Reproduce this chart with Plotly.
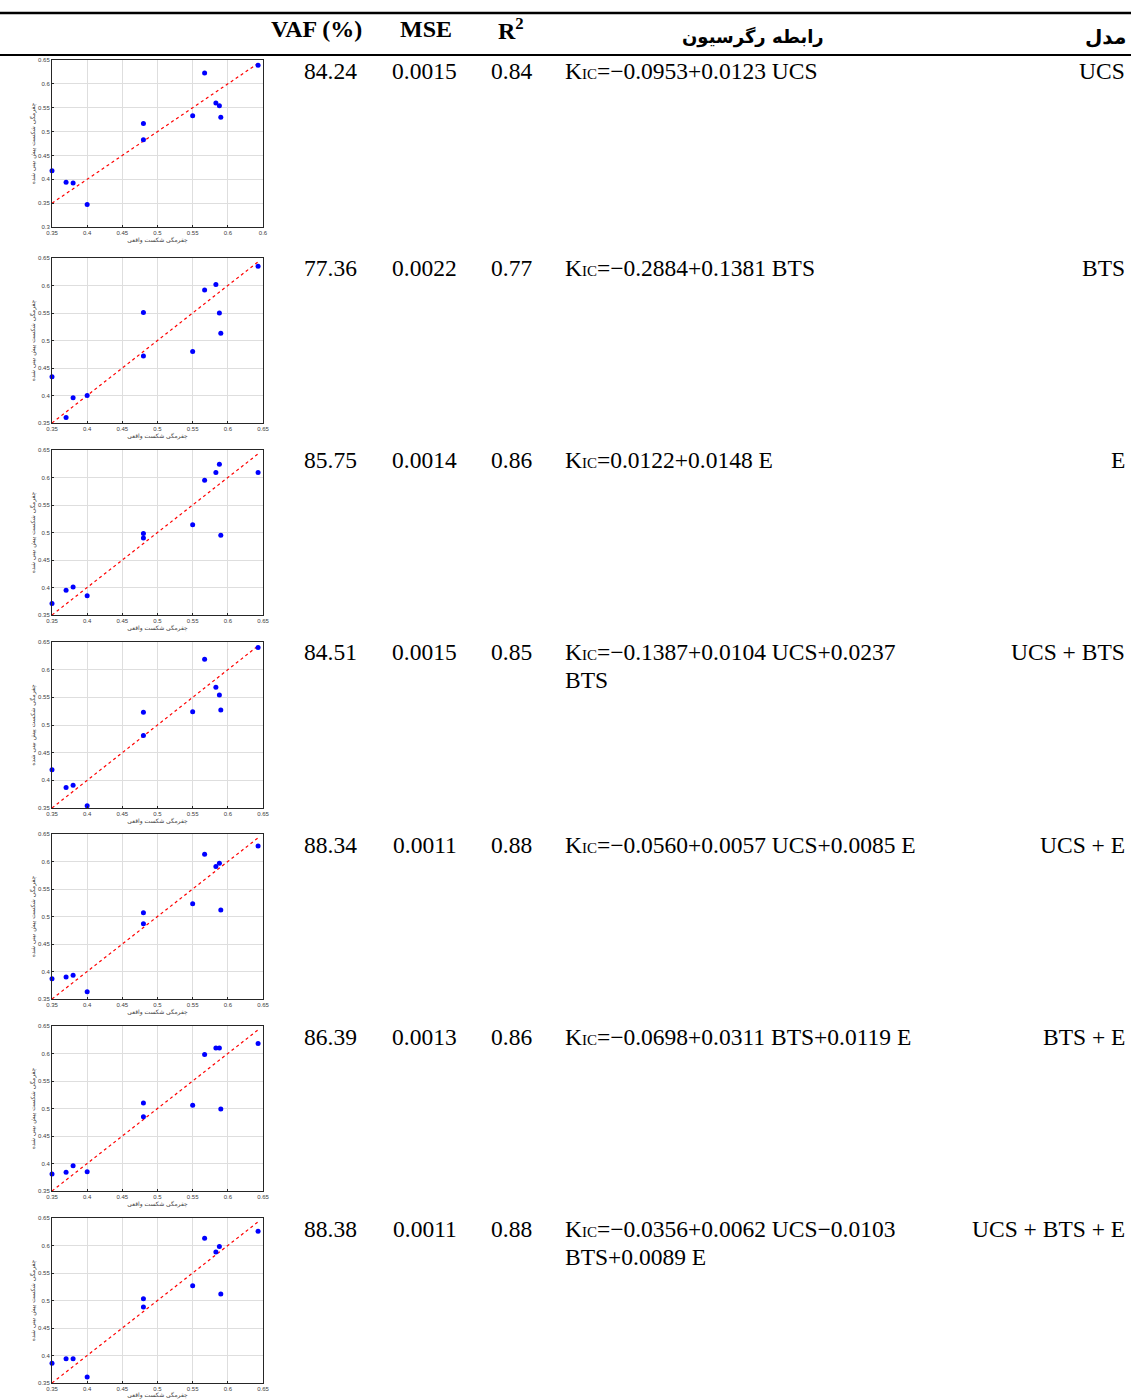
import plotly.graph_objects as go

W, H = 1131, 1399

# Measured fracture toughness (shared by all models)
actual = [0.35, 0.37, 0.38, 0.40, 0.48, 0.48, 0.55, 0.567, 0.583, 0.588, 0.59, 0.643]

# Predicted fracture toughness for each regression model
pred_ucs = [0.418, 0.394, 0.392, 0.347, 0.517, 0.483, 0.533, 0.623, 0.560, 0.554, 0.530, 0.639]
pred_bts = [0.434, 0.360, 0.396, 0.400, 0.551, 0.472, 0.480, 0.592, 0.602, 0.550, 0.513, 0.635]
pred_e = [0.371, 0.395, 0.401, 0.385, 0.498, 0.490, 0.514, 0.595, 0.609, 0.624, 0.495, 0.609]
pred_ucs_bts = [0.419, 0.387, 0.391, 0.354, 0.523, 0.481, 0.524, 0.619, 0.568, 0.554, 0.527, 0.640]
pred_ucs_e = [0.387, 0.390, 0.393, 0.363, 0.507, 0.487, 0.523, 0.613, 0.591, 0.597, 0.512, 0.628]
pred_bts_e = [0.381, 0.384, 0.396, 0.385, 0.510, 0.485, 0.506, 0.598, 0.610, 0.610, 0.499, 0.618]
pred_all = [0.386, 0.394, 0.394, 0.361, 0.503, 0.488, 0.527, 0.613, 0.588, 0.598, 0.512, 0.626]
predictions = [pred_ucs, pred_bts, pred_e, pred_ucs_bts, pred_ucs_e, pred_bts_e, pred_all]

# Table columns
KIC = "K<span style='font-size:15px'>IC</span>"
models = ["UCS", "BTS", "E", "UCS + BTS", "UCS + E", "BTS + E", "UCS + BTS + E"]
vaf = ["84.24", "77.36", "85.75", "84.51", "88.34", "86.39", "88.38"]
mse = ["0.0015", "0.0022", "0.0014", "0.0015", "0.0011", "0.0013", "0.0011"]
r2 = ["0.84", "0.77", "0.86", "0.85", "0.88", "0.86", "0.88"]
equations = [
    KIC + "=−0.0953+0.0123 UCS",
    KIC + "=−0.2884+0.1381 BTS",
    KIC + "=0.0122+0.0148 E",
    KIC + "=−0.1387+0.0104 UCS+0.0237\nBTS",
    KIC + "=−0.0560+0.0057 UCS+0.0085 E",
    KIC + "=−0.0698+0.0311 BTS+0.0119 E",
    KIC + "=−0.0356+0.0062 UCS−0.0103\nBTS+0.0089 E",
]

headers = ["VAF (%)", "MSE", "R<sup>2</sup>", "رابطه رگرسیون", "مدل"]

x_title = "چقرمگی شکست واقعی"
y_title = "چقرمگی شکست پیش بینی شده"

x_ticks = [0.35, 0.4, 0.45, 0.5, 0.55, 0.6, 0.65]
y_ticks = [0.3, 0.35, 0.4, 0.45, 0.5, 0.55, 0.6, 0.65]

# Layout positions in pixels
plot_left, plot_right = 52, 263
plot_boxes = [(60, 227), (258, 423), (450, 615), (642, 808), (834, 999), (1026, 1191), (1218, 1383)]
row_text_y = [71, 268, 460, 652, 845, 1037, 1229]
line_gap = 28


def px_x(p):
    return p / W


def px_y(p):
    return 1 - p / H


SERIF = "Liberation Serif, Times New Roman, serif"
ARABIC = "DejaVu Sans, sans-serif"

fig = go.Figure()
layout = dict(
    template="none",
    width=W, height=H, autosize=False, margin=dict(l=0, r=0, t=0, b=0, pad=0),
    paper_bgcolor="white", plot_bgcolor="white", showlegend=False,
)

for i, pred in enumerate(predictions):
    sfx = "" if i == 0 else str(i + 1)
    xref, yref = "x" + sfx, "y" + sfx
    top, bottom = plot_boxes[i]
    y_lo = 0.3 if i == 0 else 0.35
    yt = [t for t in y_ticks if t >= y_lo - 1e-9]
    xtext = [f"{t:g}" for t in x_ticks]
    if i == 0:
        xtext[-1] = "0.6"
    axis_common = dict(
        automargin=False,
        showline=True, mirror=True, linecolor="#262626", linewidth=1,
        showgrid=True, gridcolor="#dedede", gridwidth=1,
        ticks="inside", ticklen=2, tickcolor="#262626",
        tickfont=dict(family="Liberation Sans, Arial", size=6, color="#404040"),
        zeroline=False,
    )
    layout["xaxis" + sfx] = dict(
        axis_common, domain=[px_x(plot_left), px_x(plot_right)], anchor=yref,
        range=[0.35, 0.65], tickvals=x_ticks, ticktext=xtext,
        title=dict(text=x_title, font=dict(family=ARABIC, size=6, color="#404040"), standoff=1),
    )
    layout["yaxis" + sfx] = dict(
        axis_common, domain=[px_y(bottom), px_y(top)], anchor=xref,
        range=[y_lo, 0.65], tickvals=yt, ticktext=[f"{t:g}" for t in yt],
        title=dict(text=y_title, font=dict(family=ARABIC, size=6, color="#404040"), standoff=2),
    )
    # 1:1 reference line
    fig.add_trace(go.Scatter(
        x=[0.35, max(actual)], y=[0.35, max(actual)], mode="lines",
        line=dict(color="red", width=1.2, dash="3px,3px"),
        xaxis=xref, yaxis=yref, hoverinfo="skip",
    ))
    fig.add_trace(go.Scatter(
        x=actual, y=pred, mode="markers", cliponaxis=False,
        marker=dict(color="#0000ff", size=5),
        xaxis=xref, yaxis=yref,
    ))

annotations = []


def add_text(text, x, y, anchor, size=23.5, family=SERIF, color="black"):
    annotations.append(dict(
        text=text, x=px_x(x), y=px_y(y), xref="paper", yref="paper",
        xanchor=anchor, yanchor="middle", showarrow=False,
        font=dict(family=family, size=size, color=color), align="left",
    ))


# Header row
add_text("<b>" + headers[0] + "</b>", 316, 29, "center", size=24)
add_text("<b>" + headers[1] + "</b>", 426, 29, "center", size=24)
add_text("<b>" + headers[2] + "</b>", 511, 29, "center", size=24)
add_text("<b>" + headers[3] + "</b>", 753, 37, "center", size=18, family=ARABIC)
add_text("<b>" + headers[4] + "</b>", 1128, 37, "right", size=20, family=ARABIC)

# Body rows
for i in range(len(models)):
    y = row_text_y[i]
    add_text(vaf[i], 330, y, "center")
    add_text(mse[i], 425, y, "center")
    add_text(r2[i], 511, y, "center")
    for k, part in enumerate(equations[i].split("\n")):
        add_text(part, 563, y + k * line_gap, "left")
    add_text(models[i], 1127, y, "right")

layout["annotations"] = annotations
layout["shapes"] = [
    dict(type="line", xref="paper", yref="paper", x0=0, x1=1, y0=px_y(13), y1=px_y(13),
         line=dict(color="black", width=2.5)),
    dict(type="line", xref="paper", yref="paper", x0=0, x1=1, y0=px_y(55), y1=px_y(55),
         line=dict(color="black", width=2)),
]

fig.update_layout(**layout)
fig.write_html("out.html")
